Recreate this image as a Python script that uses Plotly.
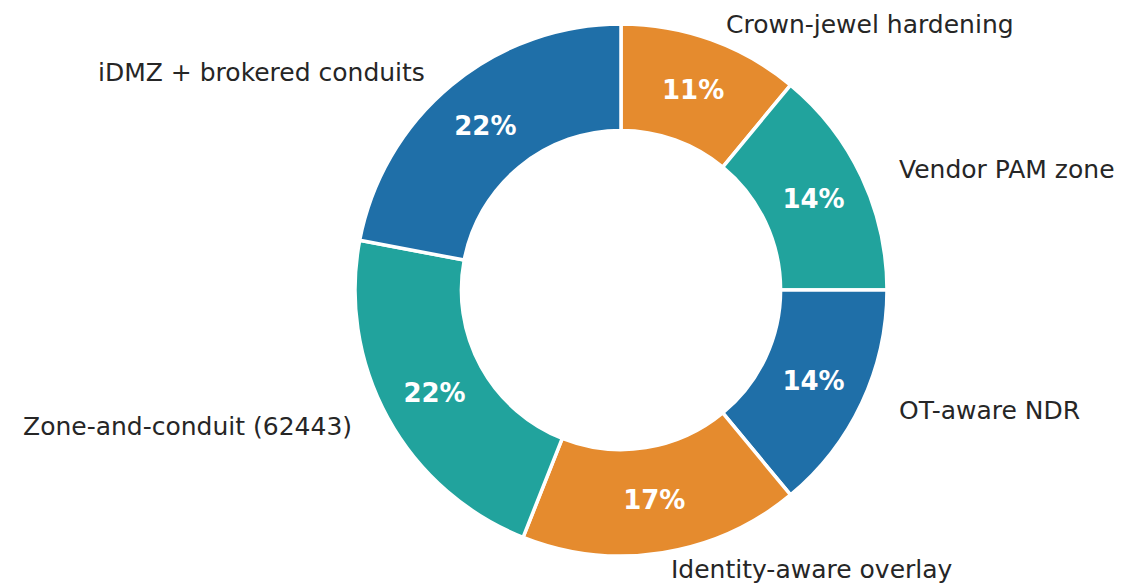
import math
import plotly.graph_objects as go

labels = ["Crown-jewel hardening", "Vendor PAM zone", "OT-aware NDR",
          "Identity-aware overlay", "Zone-and-conduit (62443)", "iDMZ + brokered conduits"]
values = [11, 14, 14, 17, 22, 22]
colors = ["#e58b2e", "#21a39d", "#1f6fa8", "#e58b2e", "#21a39d", "#1f6fa8"]

W, H = 1127, 583
CX, CY = 621, 290          # pixel centre of the donut
R = 266                    # pixel outer radius

fig = go.Figure()
fig.add_trace(go.Pie(
    labels=labels, values=values, sort=False, direction="clockwise", rotation=0,
    hole=0.6,
    marker=dict(colors=colors, line=dict(color="white", width=3.5)),
    textinfo="percent", texttemplate="%{percent:.0%}",
    textposition="inside", insidetextorientation="horizontal",
    textfont=dict(family="DejaVu Sans", size=26, color="white", weight="bold"),
    showlegend=False, hoverinfo="label+percent",
    domain=dict(x=[(CX - R) / W, (CX + R) / W], y=[(H - CY - R) / H, (H - CY + R) / H]),
))

# outside labels at 1.1 radius, placed from the cumulative data angles
total = sum(values)
cum = 0
RX, RY = 277, 257
for lab, v in zip(labels, values):
    mid = (cum + v / 2) / total * 2 * math.pi
    cum += v
    sx, sy = math.sin(mid), math.cos(mid)
    px = CX + 1.1 * RX * sx
    py = CY - 1.1 * RY * sy
    fig.add_annotation(
        x=px / W, y=(H - py) / H, xref="paper", yref="paper",
        text=lab, showarrow=False,
        xanchor="left" if sx > 0 else "right", yanchor="middle",
        font=dict(family="DejaVu Sans", size=25, color="#262626"),
    )

fig.update_layout(
    width=W, height=H, margin=dict(l=0, r=0, t=0, b=0),
    paper_bgcolor="white", plot_bgcolor="white",
)
fig.write_html("out.html")
